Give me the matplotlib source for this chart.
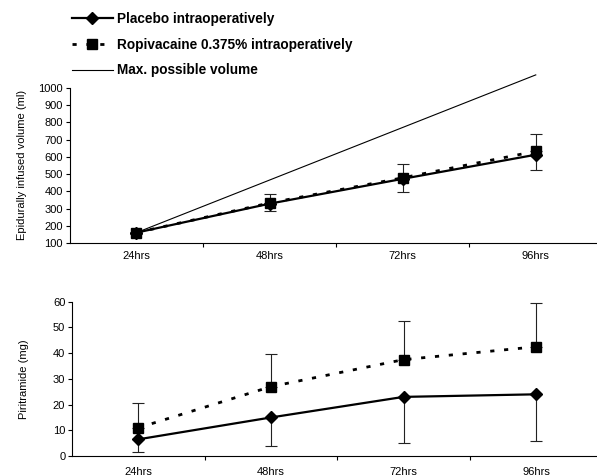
import matplotlib
matplotlib.use("Agg")
import matplotlib.pyplot as plt

plt.rcParams['font.family'] = ['Liberation Sans', 'DejaVu Sans']

times = ["24hrs", "48hrs", "72hrs", "96hrs"]

# Top panel: epidurally infused volume (ml)
vol_placebo = [160, 328, 472, 612]
vol_placebo_err = [5, 45, 76, 88]
vol_ropi = [160, 332, 478, 632]
vol_ropi_err = [5, 50, 82, 102]
vol_max = [160, 465, 770, 1075]

# Bottom panel: piritramide (mg)
pir_placebo = [6.5, 15, 23, 24]
pir_placebo_err = [5, 11, 18, 18]
pir_ropi = [11, 27, 37.5, 42.5]
pir_ropi_err = [9.5, 12.5, 15, 17]

fig = plt.figure(figsize=(5.97, 4.76), dpi=100)
ax1 = fig.add_axes([0.117, 0.4895, 0.883, 0.326])
ax2 = fig.add_axes([0.121, 0.042, 0.879, 0.324])

x = list(range(len(times)))

def style(ax, pad):
    ax.spines['top'].set_visible(False)
    ax.spines['right'].set_visible(False)
    ax.spines['left'].set_linewidth(0.8)
    ax.spines['bottom'].set_linewidth(0.8)
    ax.set_xlim(-0.5, 3.46)
    ax.set_xticks(x)
    ax.set_xticklabels(times)
    ax.set_xticks([0.5, 1.5, 2.5], minor=True)
    ax.tick_params(axis='x', which='major', length=0, labelsize=8, pad=pad)
    ax.tick_params(axis='x', which='minor', length=3, direction='out', width=0.8)
    ax.tick_params(axis='y', length=3, width=0.8, labelsize=8, pad=2)

ecol = '#222222'
# Top
ax1.errorbar(x, vol_placebo, yerr=[vol_placebo_err, [0]*4], fmt='none', ecolor=ecol, elinewidth=0.8, capsize=4, capthick=0.8)
ax1.errorbar(x, vol_ropi, yerr=[[0]*4, vol_ropi_err], fmt='none', ecolor=ecol, elinewidth=0.8, capsize=4, capthick=0.8)
l_max, = ax1.plot(x, vol_max, color='black', lw=0.8, clip_on=False, label='Max. possible volume')
l_pl, = ax1.plot(x, vol_placebo, color='black', lw=1.6, marker='D', ms=6, label='Placebo intraoperatively')
l_ro, = ax1.plot(x, vol_ropi, color='black', lw=2, ls=(0, (1.5, 3.5)), marker='s', ms=7.5,
                 label='Ropivacaine 0.375% intraoperatively')
ax1.set_ylim(100, 1000)
ax1.set_yticks(range(100, 1001, 100))
ax1.set_ylabel('Epidurally infused volume (ml)', fontsize=8, labelpad=8)
style(ax1, 6)

# Bottom
ax2.errorbar(x, pir_placebo, yerr=[pir_placebo_err, [0]*4], fmt='none', ecolor=ecol, elinewidth=0.8, capsize=4, capthick=0.8)
ax2.errorbar(x, pir_ropi, yerr=[[0]*4, pir_ropi_err], fmt='none', ecolor=ecol, elinewidth=0.8, capsize=4, capthick=0.8)
ax2.plot(x, pir_placebo, color='black', lw=1.6, marker='D', ms=6)
ax2.plot(x, pir_ropi, color='black', lw=2, ls=(0, (1.5, 3.5)), marker='s', ms=7.5)
ax2.set_ylim(0, 60)
ax2.set_yticks(range(0, 61, 10))
ax2.set_ylabel('Piritramide (mg)', fontsize=8, labelpad=17)
style(ax2, 8)

fig.legend(handles=[l_pl, l_ro, l_max], loc='upper left', bbox_to_anchor=(0.1, 1.0),
           frameon=False, prop={'weight': 'bold', 'size': 9.8}, handlelength=3.0,
           labelspacing=0.85, handletextpad=0.3)

fig.savefig('out.png', dpi=100)
